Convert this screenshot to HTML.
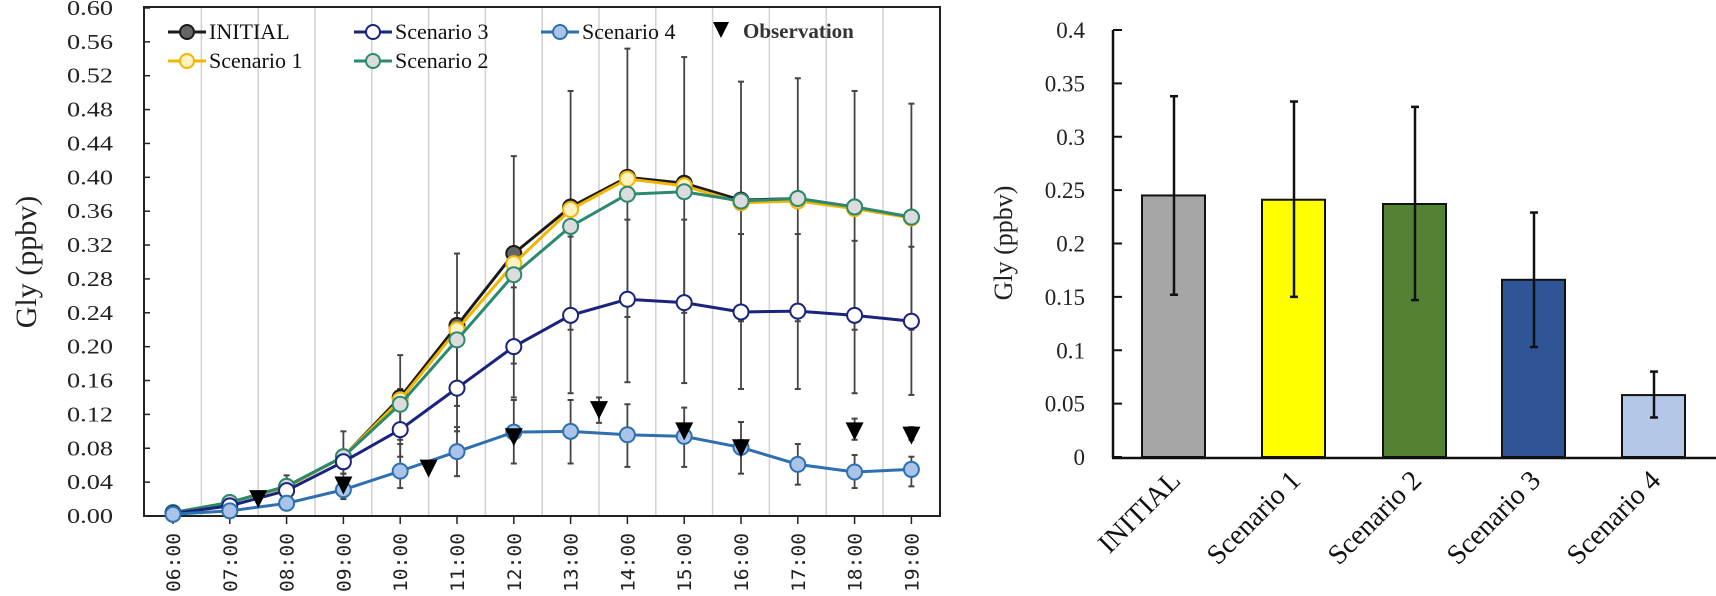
<!DOCTYPE html>
<html><head><meta charset="utf-8"><style>html,body{margin:0;padding:0;background:#fff}svg{display:block}</style></head><body>
<svg id="s" width="1716" height="596" xmlns="http://www.w3.org/2000/svg" font-family="Liberation Serif, serif"></svg>
<script>
const S=document.getElementById('s');let h='';
const X=t=>173+(t-6)*56.8, Y=v=>516-v*846.7;
// frame
for(let t=6.5;t<19;t+=1){h+=`<line x1="${X(t)}" y1="8" x2="${X(t)}" y2="516" stroke="#d0d0d0" stroke-width="1.5"/>`;}
h+=`<rect x="144" y="7" width="796" height="509" fill="none" stroke="#222" stroke-width="2"/>`;
for(let i=0;i<=15;i++){const v=i*0.04,y=Y(v);h+=`<line x1="144" y1="${y}" x2="150" y2="${y}" stroke="#222" stroke-width="1.5"/><text x="113" y="${y+7}" font-size="21" text-anchor="end" textLength="46" lengthAdjust="spacingAndGlyphs" fill="#222">${v.toFixed(2)}</text>`;}
for(let t=6;t<=19;t++){const x=X(t);h+=`<line x1="${x}" y1="516" x2="${x}" y2="524" stroke="#222" stroke-width="1.5"/><text transform="translate(${x+7},592) rotate(-90)" font-family="DejaVu Sans Mono,monospace" font-size="19" textLength="59" lengthAdjust="spacingAndGlyphs" fill="#222">${String(t).padStart(2,'0')}:00</text>`;}
h+=`<text transform="translate(36,262) rotate(-90)" font-size="30" text-anchor="middle" fill="#222">Gly (ppbv)</text>`;
// error bars
const E=[[9,.05,.1],[10,.09,.19],[11,.13,.31],[12,.18,.425],[13,.22,.502],[14,.235,.552],[15,.24,.542],[16,.23,.513],[17,.23,.517],[18,.22,.502],[19,.22,.487],
[10,.07,.15],[11,.1,.24],[12,.14,.27],[13,.145,.33],[14,.158,.35],[15,.157,.35],[16,.15,.333],[17,.15,.333],[18,.145,.325],[19,.143,.318],
[9,.02,.05],[10,.033,.085],[11,.047,.105],[12,.062,.137],[13,.062,.137],[14,.058,.132],[15,.058,.128],[16,.05,.111],[17,.037,.085],[18,.033,.072],[19,.035,.07],[8,.03,.048],
[13.5,.11,.14],[18,.09,.115],[19,.09,.105]];
E.forEach(([t,a,b])=>{const x=X(t);h+=`<line x1="${x}" y1="${Y(a)}" x2="${x}" y2="${Y(b)}" stroke="#444" stroke-width="1.8"/><line x1="${x-3}" y1="${Y(a)}" x2="${x+3}" y2="${Y(a)}" stroke="#444" stroke-width="2"/><line x1="${x-3}" y1="${Y(b)}" x2="${x+3}" y2="${Y(b)}" stroke="#444" stroke-width="2"/>`;});
const ser=[
['#1a1a1a','#666',[.004,.016,.035,.07,.14,.225,.31,.365,.40,.393,.373,.375,.365,.353]],
['#f2b500','#fff3c4',[.004,.016,.034,.07,.137,.22,.298,.362,.398,.39,.37,.372,.363,.352]],
['#2a8a70','#dcdcdc',[.004,.016,.035,.07,.132,.208,.285,.342,.38,.383,.372,.375,.365,.353]],
['#1a237e','#fff',[.003,.012,.03,.064,.102,.151,.2,.237,.256,.252,.241,.242,.237,.23]],
['#2e6fb0','#a9c4e8',[.002,.006,.015,.031,.053,.076,.099,.1,.096,.094,.081,.061,.052,.055]]];
ser.forEach(([c,f,d])=>{h+=`<polyline fill="none" stroke="${c}" stroke-width="3" points="${d.map((v,i)=>X(6+i)+','+Y(v)).join(' ')}"/>`;d.forEach((v,i)=>{h+=`<circle cx="${X(6+i)}" cy="${Y(v)}" r="7.5" fill="${f}" stroke="${c}" stroke-width="2"/>`;});});
const tri=(x,y,s)=>`<polygon points="${x-s},${y-s} ${x+s},${y-s} ${x},${y+s}" fill="#000"/>`;
[[7.5,.02],[9,.036],[10.5,.056],[12,.093],[13.5,.125],[15,.1],[16,.08],[18,.1],[19,.095]].forEach(([t,v])=>h+=tri(X(t),Y(v),9));
// legend
const leg=(x,y,c,f,txt)=>`<line x1="${x-19}" y1="${y}" x2="${x+19}" y2="${y}" stroke="${c}" stroke-width="3"/><circle cx="${x}" cy="${y}" r="7" fill="${f}" stroke="${c}" stroke-width="2"/><text x="${x+22}" y="${y+7}" font-size="22" fill="#111">${txt}</text>`;
h+=leg(187,32,'#1a1a1a','#666','INITIAL')+leg(373,32,'#1a237e','#fff','Scenario 3')+leg(560,32,'#2e6fb0','#a9c4e8','Scenario 4')+leg(187,61,'#f2b500','#fff3c4','Scenario 1')+leg(373,61,'#2a8a70','#dcdcdc','Scenario 2');
h+=tri(721,30,8)+`<text x="743" y="38" font-size="21" font-weight="bold" fill="#333">Observation</text>`;
// right chart
const R=v=>457-v*1067.5;
h+=`<line x1="1113" y1="30" x2="1113" y2="458" stroke="#111" stroke-width="2.5"/><line x1="1112" y1="458" x2="1716" y2="458" stroke="#111" stroke-width="2.5"/>`;
for(let i=0;i<=8;i++){const v=i*0.05,y=R(v);h+=`<line x1="1113" y1="${y}" x2="1122" y2="${y}" stroke="#111" stroke-width="2"/><text x="1085" y="${y+8}" font-size="23" text-anchor="end" fill="#222">${i==0?'0':+v.toFixed(2)}</text>`;}
h+=`<text transform="translate(1012,243) rotate(-90)" font-size="26" text-anchor="middle" fill="#222">Gly (ppbv)</text>`;
const B=[['INITIAL','#a6a6a6',1142,.245,.152,.338],['Scenario 1','#ffff00',1262,.241,.15,.333],['Scenario 2','#548235',1383,.237,.147,.328],['Scenario 3','#2f5597',1502,.166,.103,.229],['Scenario 4','#b4c7e7',1622,.058,.037,.08]];
B.forEach(([n,c,x,v,a,b])=>{const cx=x+32;h+=`<rect x="${x}" y="${R(v)}" width="63" height="${457-R(v)}" fill="${c}" stroke="#111" stroke-width="2"/><line x1="${cx}" y1="${R(a)}" x2="${cx}" y2="${R(b)}" stroke="#111" stroke-width="2.5"/><line x1="${cx-4}" y1="${R(a)}" x2="${cx+4}" y2="${R(a)}" stroke="#111" stroke-width="2.5"/><line x1="${cx-4}" y1="${R(b)}" x2="${cx+4}" y2="${R(b)}" stroke="#111" stroke-width="2.5"/><text transform="translate(${cx+8},482) rotate(-45)" font-size="28" text-anchor="end" fill="#111">${n}</text>`;});
S.innerHTML=h;
</script>
</body></html>
